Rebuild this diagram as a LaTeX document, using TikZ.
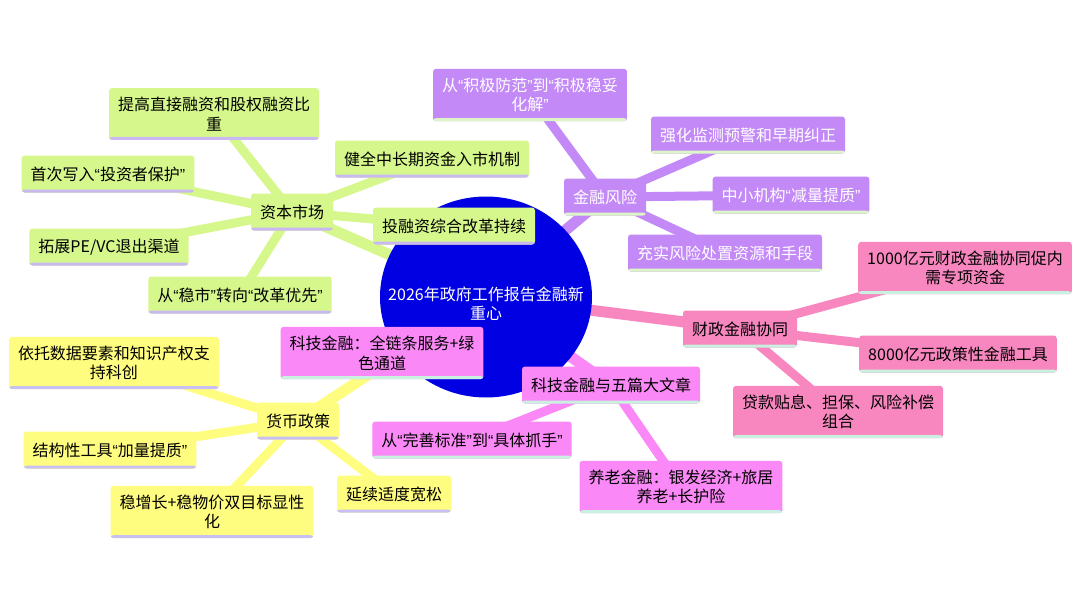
\documentclass[tikz,border=0pt]{standalone}
\usepackage{fontspec}
\setmainfont{Noto Sans CJK SC}
\newfontfamily\myqfont{Liberation Sans}
\newcommand{\myoq}{{\myqfont “}}
\newcommand{\mycq}{{\myqfont ”}}
\usetikzlibrary{shapes.geometric,backgrounds}
\definecolor{cg}{HTML}{D5F78C}
\definecolor{cgs}{HTML}{C9B8F2}
\definecolor{cp}{HTML}{C38AF7}
\definecolor{cps}{HTML}{DDF6C8}
\definecolor{cf}{HTML}{F887C0}
\definecolor{cfs}{HTML}{C8F2DF}
\definecolor{cm}{HTML}{FA88F6}
\definecolor{cms}{HTML}{C8F2DF}
\definecolor{cy}{HTML}{FFFD80}
\definecolor{cys}{HTML}{C8C0F2}
\definecolor{cblue}{HTML}{0000E2}
\begin{document}
\begin{tikzpicture}[x=1pt,y=-1pt,
  stripe/.style={path picture={\fill[#1] (path picture bounding box.south west) rectangle ([yshift=3pt]path picture bounding box.south east);}},
  box/.style={rectangle, rounded corners=3pt, inner xsep=9pt, inner ysep=9pt, minimum height=37pt, align=center, font=\fontsize{16}{19.5}\selectfont},
  gbox/.style={box, fill=cg, stripe=cgs, text=black},
  pbox/.style={box, fill=cp, stripe=cps, text=white},
  fbox/.style={box, fill=cf, stripe=cfs, text=black},
  mbox/.style={box, fill=cm, stripe=cms, text=black},
  ybox/.style={box, fill=cy, stripe=cys, text=black},
  mainline/.style={line width=11pt, draw=#1},
  subline/.style={line width=9pt, draw=#1}
]
\useasboundingbox (0,0) rectangle (1080,608);

\node[ellipse, fill=cblue, minimum width=212pt, minimum height=201pt, inner sep=0pt] (c) at (486,297) {};
\node[text=white, align=center, font=\fontsize{16}{19}\selectfont] (ct) at (486,304) {2026年政府工作报告金融新\\重心};

% capital market
\node[gbox] (cap) at (292,212) {资本市场};
\node[gbox] (a1) at (214,114) {提高直接融资和股权融资比\\重};
\node[gbox] (a2) at (108,174) {首次写入\myoq 投资者保护\mycq};
\node[gbox] (a3) at (109,247) {拓展PE/VC退出渠道};
\node[gbox] (a4) at (240,295) {从\myoq 稳市\mycq 转向\myoq 改革优先\mycq};
\node[gbox] (a5) at (432,159) {健全中长期资金入市机制};
\node[gbox] (a6) at (454,226) {投融资综合改革持续};

% financial risk
\node[pbox] (risk) at (605,197) {金融风险};
\node[pbox] (r1) at (530,95) {从\myoq 积极防范\mycq 到\myoq 积极稳妥\\化解\mycq};
\node[pbox] (r2) at (748,135) {强化监测预警和早期纠正};
\node[pbox] (r3) at (791,195) {中小机构\myoq 减量提质\mycq};
\node[pbox] (r4) at (725,253) {充实风险处置资源和手段};

% fiscal
\node[fbox] (fis) at (740,329) {财政金融协同};
\node[fbox] (f1) at (965,268) {1000亿元财政金融协同促内\\需专项资金};
\node[fbox] (f2) at (958,354) {8000亿元政策性金融工具};
\node[fbox] (f3) at (838,412) {贷款贴息、担保、风险补偿\\组合};

% tech
\node[mbox] (tech) at (611,385) {科技金融与五篇大文章};
\node[mbox] (t1) at (382,353) {科技金融：全链条服务+绿\\色通道};
\node[mbox] (t2) at (472,440) {从\myoq 完善标准\mycq 到\myoq 具体抓手\mycq};
\node[mbox] (t3) at (681,487) {养老金融：银发经济+旅居\\养老+长护险};

% monetary
\node[ybox] (mon) at (298,421) {货币政策};
\node[ybox] (m1) at (114,363) {依托数据要素和知识产权支\\持科创};
\node[ybox] (m2) at (110,450) {结构性工具\myoq 加量提质\mycq};
\node[ybox] (m3) at (212,512) {稳增长+稳物价双目标显性\\化};
\node[ybox] (m4) at (394,494) {延续适度宽松};

\begin{pgfonlayer}{background}
\fill[white] (0,0) rectangle (1080,608);
\draw[mainline=cg] (c.center) -- (cap.center);
\draw[mainline=cp] (c.center) -- (risk.center);
\draw[mainline=cf] (c.center) -- (fis.center);
\draw[mainline=cm] (c.center) -- (tech.center);
\draw[mainline=cy] (c.center) -- (mon.center);
\foreach \n in {a1,a2,a3,a4,a5,a6} \draw[subline=cg] (cap.center) -- (\n.center);
\foreach \n in {r1,r2,r3,r4} \draw[subline=cp] (risk.center) -- (\n.center);
\foreach \n in {f1,f2,f3} \draw[subline=cf] (fis.center) -- (\n.center);
\foreach \n in {t1,t2,t3} \draw[subline=cm] (tech.center) -- (\n.center);
\foreach \n in {m1,m2,m3,m4} \draw[subline=cy] (mon.center) -- (\n.center);
\end{pgfonlayer}
\end{tikzpicture}
\end{document}
